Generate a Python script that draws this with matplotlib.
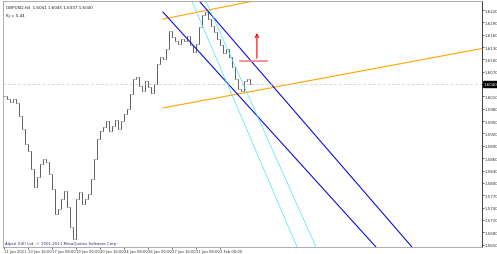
import numpy as np
import matplotlib
matplotlib.use("Agg")
import matplotlib.pyplot as plt

# H4 closes
closes = [1.6011, 1.6004, 1.5996, 1.6004, 1.5994, 1.5962, 1.5931, 1.5894, 1.5877, 1.5834,
          1.5790, 1.5814, 1.5846, 1.5858, 1.5851, 1.5821, 1.5785, 1.5724, 1.5736, 1.5761,
          1.5780, 1.5741, 1.5693, 1.5664, 1.5761, 1.5778, 1.5749, 1.5761, 1.5773, 1.5809,
          1.5858, 1.5907, 1.5926, 1.5936, 1.5950, 1.5926, 1.5938, 1.5953, 1.5931, 1.5950,
          1.5967, 1.5979, 1.6016, 1.6052, 1.6057, 1.6035, 1.6023, 1.6047, 1.6033, 1.6018,
          1.6040, 1.6089, 1.6106, 1.6101, 1.6125, 1.6169, 1.6154, 1.6145, 1.6137, 1.6150,
          1.6145, 1.6157, 1.6135, 1.6118, 1.6137, 1.6179, 1.6208, 1.6215, 1.6198, 1.6181,
          1.6167, 1.6150, 1.6135, 1.6115, 1.6125, 1.6106, 1.6082, 1.6052, 1.6028, 1.6023,
          1.6047, 1.6052, 1.6040]
bid = 1.6040

price_ticks = [1.6220, 1.6190, 1.6160, 1.6130, 1.6100, 1.6070, 1.6040, 1.6010, 1.5980, 1.5950,
               1.5920, 1.5890, 1.5860, 1.5830, 1.5800, 1.5770, 1.5740, 1.5710, 1.5680, 1.5650]
date_labels = ["11 Jan 2011", "13 Jan 16:00", "17 Jan 08:00", "19 Jan 00:00", "20 Jan 16:00",
               "24 Jan 08:00", "26 Jan 00:00", "27 Jan 16:00", "31 Jan 08:00", "2 Feb 00:00"]

# trend lines: (bar, price) anchors
orange_up = [(53, 1.6198), (86, 1.6246)]
orange_lo = [(53, 1.5982), (120, 1.6073)]
blue_a = [(53, 1.6215), (124, 1.5644)]
blue_b = [(65.3, 1.6240), (136, 1.5644)]
cyan_1 = [(62.3, 1.6247), (97.7, 1.5644)]
cyan_2 = [(67, 1.6247), (104, 1.5644)]
red_level = [(78.7, 1.6096), (87.7, 1.6096)]
red_arrow = [(84.3, 1.6096), (84.3, 1.6171)]

XMIN, XMAX = -0.33, 159.33
YMIN, YMAX = 1.56441, 1.62419

fig = plt.figure(figsize=(4.97, 2.55), dpi=100)
ax = fig.add_axes([3/497, 7/255, 479/497, 246/255])
ax.set_xlim(XMIN, XMAX)
ax.set_ylim(YMIN, YMAX)

n = len(closes)
x = np.arange(n)
opens = [closes[0]] + closes[:-1]
ax.vlines(x, opens, closes, color='#202020', lw=0.5)
ax.hlines(opens, x - 0.45, x, color='#202020', lw=0.4)
ax.hlines(closes, x, x + 0.45, color='#202020', lw=0.4)

def ray(p, color, lw):
    (x1, y1), (x2, y2) = p
    k = (y2 - y1) / (x2 - x1)
    ax.plot([x1, XMAX + 5], [y1, y1 + k * (XMAX + 5 - x1)], color=color, lw=lw)

def ray_down(p, color, lw):
    (x1, y1), (x2, y2) = p
    k = (y2 - y1) / (x2 - x1)
    ax.plot([x1, x2 + 5], [y1, y1 + k * (x2 + 5 - x1)], color=color, lw=lw)

ray(orange_up, '#FFA500', 0.8)
ray(orange_lo, '#FFA500', 0.8)
ray_down(blue_a, '#0000E0', 0.75)
ray_down(blue_b, '#0000E0', 0.75)
ray_down(cyan_1, '#40E8F0', 0.5)
ray_down(cyan_2, '#40E8F0', 0.5)
ax.plot([red_level[0][0], red_level[1][0]], [red_level[0][1], red_level[1][1]], color='#F08080', lw=1.2)
ax.annotate('', xy=red_arrow[1], xytext=red_arrow[0],
            arrowprops=dict(arrowstyle='->', color='#FF0000', lw=0.8, mutation_scale=6))

ax.axhline(bid, color='#C8C8C8', lw=0.5, ls=(0, (4, 3)))

ax.yaxis.tick_right()
ax.set_yticks(price_ticks)
ax.set_yticklabels(['%.4f' % p for p in price_ticks])
ax.set_xticks(np.arange(len(date_labels)) * 8)
ax.set_xticklabels(date_labels, ha='left')
ax.tick_params(axis='y', labelsize=2.9, length=1.2, width=0.5, pad=0.5, colors='#303030')
ax.tick_params(axis='x', labelsize=2.7, length=1.2, width=0.5, pad=0.3, colors='#303030')
for s in ['left', 'top', 'bottom']:
    ax.spines[s].set_color('#A0A0A0')
    ax.spines[s].set_linewidth(0.6)
ax.spines['right'].set_color('#404040')
ax.spines['right'].set_linewidth(0.7)

ax.text(1.003, bid, '%.4f' % bid, transform=ax.get_yaxis_transform(), fontsize=2.9,
        color='white', va='center', ha='left', zorder=10, clip_on=False,
        bbox=dict(facecolor='black', edgecolor='black', pad=0.6))

ax.text(0.006, 0.985, 'GBPUSD,H4  1.6041 1.6045 1.6037 1.6040', transform=ax.transAxes,
        fontsize=3.0, va='top', ha='left', color='#202020')
ax.text(0.006, 0.95, 'Kj = 5.44', transform=ax.transAxes,
        fontsize=3.0, va='top', ha='left', color='#202020')
ax.text(0.004, 0.008, 'Alpari (UK) Ltd. \u00a9 2001-2011 MetaQuotes Software Corp.',
        transform=ax.transAxes, fontsize=2.8, va='bottom', ha='left', color='#303080')

fig.savefig('out.png', dpi=100)
